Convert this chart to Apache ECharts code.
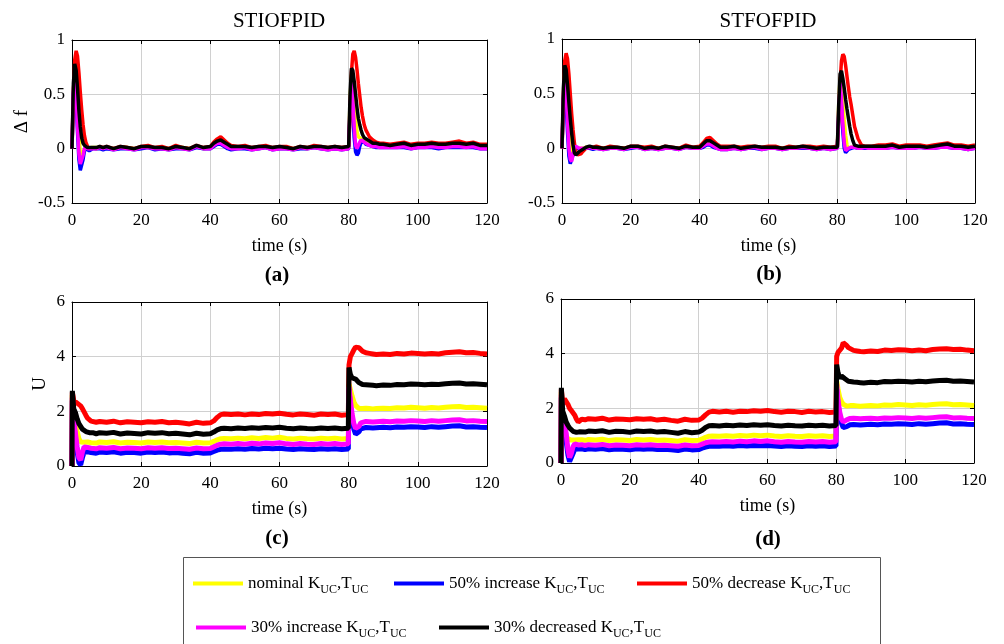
<!DOCTYPE html>
<html>
<head>
<meta charset="utf-8">
<title>STIOFPID vs STFOFPID</title>
<script src="https://cdn.jsdelivr.net/npm/echarts@6/dist/echarts.min.js"></script>
<style>
  html, body { margin: 0; padding: 0; background: #fff; }
  #chart { width: 1004px; height: 644px; }
</style>
</head>
<body>
<div id="chart"></div>
<script>
// time base of the frequency plots (a), (b)
const tF = [
  0, 0.4, 0.8, 1.2, 1.6, 2, 2.4, 2.8, 3.2, 3.6,
  4, 4.5, 5, 5.5, 6, 7, 8, 9, 10,
  12, 14, 16, 18, 20, 22, 24, 26, 28, 30, 32, 34, 36, 38,
  40, 41, 42, 43, 44, 45, 46,
  48, 50, 52, 54, 56, 58, 60, 62, 64, 66, 68, 70, 72, 74, 76, 78, 80,
  80.4, 80.8, 81.2, 81.6, 82, 82.4, 82.8, 83.2, 83.6, 84,
  84.5, 85, 86, 87, 88, 89, 90,
  92, 94, 96, 98, 100, 102, 104, 106, 108, 110, 112, 114, 116, 118, 120
];
// time base of the control-signal plots (c), (d)
const tU = [
  0, 0.1, 0.5, 1, 1.5, 2, 2.5, 3, 3.5, 4, 4.5, 5, 5.5, 6,
  7, 8, 10, 12, 14, 16, 18, 20, 22, 24, 26, 28, 30, 32, 34, 36, 38, 40,
  41, 42, 43, 44,
  46, 48, 50, 52, 54, 56, 58, 60, 62, 64, 66, 68, 70, 72, 74, 76, 78,
  79.9, 80.1, 80.5, 81, 81.5, 82, 82.5, 83, 83.5, 84,
  85, 86, 87, 88,
  90, 92, 94, 96, 98, 100, 102, 104, 106, 108, 110, 112, 114, 116, 118, 120
];

// (a) STIOFPID, delta f
const aYellow = [
  0, 0.55, 0.7, 0.6, 0.35, 0.12, -0.03, -0.07, -0.04, 0.0,
  0.01, 0.0, 0.0, 0.01, 0.0, 0.01, 0.01, 0.0, 0.01,
  0.0, 0.01, 0.01, 0.0, 0.01, 0.02, 0.0, 0.01, 0.0, 0.01, 0.01, 0.0, 0.02, 0.0,
  0.01, 0.04, 0.06, 0.07, 0.05, 0.03, 0.01,
  0.01, 0.02, 0.0, 0.01, 0.02, 0.0, 0.01, 0.01, 0.0, 0.01, 0.0, 0.02, 0.01, 0.0, 0.01, 0.0, 0.01,
  0.45, 0.68, 0.6, 0.42, 0.26, 0.16, 0.11, 0.1, 0.09, 0.08,
  0.07, 0.06, 0.05, 0.04, 0.04, 0.03, 0.03,
  0.02, 0.03, 0.04, 0.02, 0.03, 0.03, 0.04, 0.03, 0.03, 0.04, 0.04, 0.03, 0.04, 0.02, 0.02
];
const aBlue = [
  0, 0.5, 0.65, 0.45, 0.15, -0.1, -0.2, -0.19, -0.1, -0.02,
  0.0, -0.01, -0.02, -0.01, 0.0, 0.0, 0.0, -0.01, 0.0,
  -0.01, 0.0, 0.0, -0.01, 0.0, 0.01, -0.01, 0.0, -0.01, 0.0, 0.0, -0.01, 0.01, 0.0,
  0.0, 0.02, 0.04, 0.04, 0.02, 0.0, -0.01,
  0.0, 0.0, -0.01, 0.0, 0.01, -0.01, 0.0, 0.0, -0.01, 0.0, 0.0, 0.01, 0.0, -0.01, 0.0, -0.01, 0.0,
  0.35, 0.55, 0.35, 0.1, -0.03, -0.06, -0.04, 0.02, 0.06, 0.07,
  0.06, 0.04, 0.03, 0.02, 0.01, 0.01, 0.01,
  0.01, 0.01, 0.01, 0.0, 0.01, 0.01, 0.01, 0.0, 0.01, 0.01, 0.01, 0.01, 0.01, 0.0, 0.0
];
const aRed = [
  0, 0.45, 0.82, 0.9, 0.85, 0.7, 0.52, 0.36, 0.22, 0.12,
  0.06, 0.02, 0.0, 0.0, 0.01, 0.0, 0.02, 0.01, 0.02,
  0.0, 0.02, 0.01, 0.0, 0.02, 0.03, 0.01, 0.02, 0.0, 0.03, 0.01, 0.0, 0.03, 0.01,
  0.02, 0.06, 0.09, 0.11, 0.08, 0.05, 0.03,
  0.02, 0.03, 0.01, 0.02, 0.03, 0.01, 0.02, 0.02, 0.0, 0.02, 0.01, 0.03, 0.02, 0.01, 0.02, 0.01, 0.02,
  0.3, 0.7, 0.87, 0.9, 0.84, 0.73, 0.6, 0.49, 0.38, 0.3,
  0.22, 0.17, 0.11, 0.08, 0.06, 0.05, 0.05,
  0.04, 0.05, 0.06, 0.04, 0.05, 0.05, 0.06, 0.05, 0.05, 0.06, 0.07, 0.05, 0.06, 0.04, 0.04
];
const aMagenta = [
  0, 0.55, 0.68, 0.5, 0.2, -0.05, -0.14, -0.13, -0.06, 0.0,
  0.02, 0.0, -0.01, 0.0, 0.0, 0.0, 0.01, 0.0, 0.01,
  -0.01, 0.01, 0.0, -0.01, 0.01, 0.01, 0.0, 0.0, -0.01, 0.01, 0.0, -0.01, 0.02, 0.0,
  0.0, 0.03, 0.05, 0.05, 0.03, 0.01, 0.0,
  0.0, 0.01, -0.01, 0.0, 0.01, -0.01, 0.0, 0.0, -0.01, 0.01, 0.0, 0.01, 0.0, -0.01, 0.0, -0.01, 0.0,
  0.4, 0.62, 0.45, 0.2, 0.03, 0.0, 0.03, 0.06, 0.08, 0.08,
  0.06, 0.05, 0.03, 0.02, 0.02, 0.01, 0.01,
  0.01, 0.01, 0.02, 0.0, 0.01, 0.01, 0.02, 0.01, 0.01, 0.02, 0.02, 0.01, 0.02, 0.0, 0.0
];
const aBlack = [
  0, 0.6, 0.78, 0.72, 0.55, 0.35, 0.2, 0.1, 0.05, 0.03,
  0.02, 0.01, 0.0, 0.01, 0.0, 0.01, 0.02, 0.01, 0.02,
  0.0, 0.02, 0.01, 0.0, 0.02, 0.02, 0.01, 0.01, 0.0, 0.02, 0.01, 0.0, 0.03, 0.01,
  0.02, 0.05, 0.07, 0.08, 0.06, 0.04, 0.02,
  0.02, 0.02, 0.01, 0.02, 0.02, 0.01, 0.02, 0.01, 0.0, 0.02, 0.01, 0.02, 0.02, 0.01, 0.02, 0.01, 0.02,
  0.5, 0.74, 0.72, 0.62, 0.5, 0.38, 0.28, 0.22, 0.17, 0.13,
  0.1, 0.09, 0.07, 0.05, 0.05, 0.04, 0.04,
  0.03, 0.04, 0.05, 0.03, 0.04, 0.04, 0.05, 0.04, 0.04, 0.05, 0.05, 0.04, 0.05, 0.03, 0.03
];

// (b) STFOFPID, delta f
const bYellow = [
  0, 0.5, 0.7, 0.62, 0.4, 0.18, 0.02, -0.05, -0.05, -0.02,
  0.0, 0.0, 0.0, 0.0, 0.0, 0.01, 0.01, 0.0, 0.01,
  0.0, 0.01, 0.0, 0.0, 0.01, 0.01, 0.0, 0.01, 0.0, 0.01, 0.0, 0.0, 0.02, 0.0,
  0.01, 0.03, 0.05, 0.05, 0.04, 0.02, 0.01,
  0.0, 0.01, 0.0, 0.01, 0.01, 0.0, 0.01, 0.01, 0.0, 0.01, 0.0, 0.01, 0.01, 0.0, 0.01, 0.0, 0.01,
  0.4, 0.65, 0.58, 0.42, 0.26, 0.12, 0.03, 0.0, 0.0, 0.01,
  0.01, 0.01, 0.01, 0.01, 0.01, 0.01, 0.01,
  0.01, 0.01, 0.02, 0.01, 0.01, 0.01, 0.02, 0.01, 0.01, 0.02, 0.03, 0.01, 0.01, 0.01, 0.01
];
const bBlue = [
  0, 0.45, 0.6, 0.42, 0.15, -0.07, -0.14, -0.13, -0.06, 0.0,
  0.01, 0.0, 0.0, -0.01, 0.0, 0.0, 0.0, -0.01, 0.0,
  -0.01, 0.0, 0.0, -0.01, 0.0, 0.01, -0.01, 0.0, -0.01, 0.0, 0.0, -0.01, 0.01, 0.0,
  0.0, 0.01, 0.03, 0.03, 0.01, 0.0, -0.01,
  -0.01, 0.0, -0.01, 0.0, 0.0, -0.01, 0.0, 0.0, -0.01, 0.0, 0.0, 0.0, 0.0, -0.01, 0.0, -0.01, 0.0,
  0.3, 0.55, 0.38, 0.15, 0.0, -0.04, -0.04, -0.01, 0.0, 0.0,
  0.0, 0.01, 0.0, 0.0, 0.0, 0.0, 0.0,
  0.0, 0.0, 0.01, 0.0, 0.0, 0.0, 0.01, 0.0, 0.0, 0.01, 0.01, 0.0, 0.0, -0.01, 0.0
];
const bRed = [
  0, 0.4, 0.8, 0.87, 0.82, 0.68, 0.5, 0.32, 0.17, 0.05,
  -0.03, -0.06, -0.07, -0.05, -0.03, 0.0, 0.01, 0.01, 0.02,
  0.0, 0.02, 0.01, 0.0, 0.02, 0.02, 0.01, 0.02, 0.0, 0.02, 0.01, 0.0, 0.03, 0.01,
  0.02, 0.05, 0.09, 0.1, 0.07, 0.04, 0.02,
  0.02, 0.02, 0.01, 0.02, 0.02, 0.01, 0.02, 0.02, 0.0, 0.02, 0.01, 0.02, 0.02, 0.01, 0.02, 0.01, 0.02,
  0.25, 0.6, 0.8, 0.86, 0.84, 0.76, 0.66, 0.56, 0.47, 0.4,
  0.3, 0.2, 0.09, 0.03, 0.02, 0.02, 0.02,
  0.03, 0.03, 0.04, 0.02, 0.03, 0.03, 0.03, 0.02, 0.03, 0.04, 0.05, 0.03, 0.03, 0.02, 0.03
];
const bMagenta = [
  0, 0.5, 0.65, 0.5, 0.25, 0.0, -0.1, -0.12, -0.06, 0.0,
  0.02, 0.01, 0.0, 0.0, 0.0, 0.0, 0.01, 0.0, 0.0,
  -0.01, 0.0, 0.0, -0.01, 0.01, 0.01, -0.01, 0.0, -0.01, 0.0, 0.0, -0.01, 0.01, 0.0,
  0.0, 0.02, 0.04, 0.04, 0.02, 0.0, -0.01,
  -0.01, 0.0, -0.01, 0.0, 0.01, -0.01, 0.0, 0.0, -0.01, 0.0, 0.0, 0.01, 0.0, -0.01, 0.0, -0.01, 0.0,
  0.35, 0.6, 0.45, 0.22, 0.05, -0.02, -0.02, 0.0, 0.01, 0.01,
  0.01, 0.01, 0.0, 0.0, 0.01, 0.0, 0.0,
  0.0, 0.0, 0.01, 0.0, 0.0, 0.0, 0.01, 0.0, 0.0, 0.01, 0.01, 0.0, 0.0, -0.01, 0.0
];
const bBlack = [
  0, 0.55, 0.76, 0.72, 0.58, 0.42, 0.27, 0.14, 0.03, -0.04,
  -0.06, -0.05, -0.03, -0.02, -0.01, 0.01, 0.02, 0.01, 0.01,
  0.0, 0.01, 0.01, 0.0, 0.02, 0.02, 0.0, 0.01, 0.0, 0.02, 0.01, 0.0, 0.02, 0.01,
  0.01, 0.04, 0.07, 0.07, 0.05, 0.03, 0.01,
  0.01, 0.02, 0.0, 0.01, 0.02, 0.01, 0.01, 0.01, 0.0, 0.01, 0.01, 0.02, 0.01, 0.0, 0.01, 0.01, 0.01,
  0.4, 0.68, 0.71, 0.64, 0.55, 0.45, 0.36, 0.28, 0.2, 0.13,
  0.07, 0.03, 0.02, 0.02, 0.02, 0.02, 0.02,
  0.02, 0.02, 0.03, 0.01, 0.02, 0.02, 0.02, 0.01, 0.02, 0.03, 0.04, 0.02, 0.02, 0.01, 0.02
];

// (c) STIOFPID, U
const cYellow = [
  0, 2.6, 1.9, 1.6, 1.25, 1.0, 0.88, 0.85, 0.87, 0.86, 0.88, 0.87, 0.85, 0.87,
  0.84, 0.88, 0.86, 0.89, 0.84, 0.87, 0.86, 0.84, 0.88, 0.86, 0.88, 0.85, 0.86, 0.84, 0.82, 0.87, 0.84, 0.85,
  0.9, 0.96, 1.0, 1.01,
  1.0, 1.02, 1.0, 1.03, 1.01, 1.04, 1.02, 1.05, 1.01, 0.99, 1.02, 1.0, 0.99, 1.02, 1.0, 1.02, 0.99,
  1.01, 3.0, 2.8, 2.55, 2.35, 2.22, 2.15, 2.1, 2.09, 2.1,
  2.11, 2.1, 2.09, 2.1,
  2.11, 2.1, 2.13, 2.12, 2.15, 2.13, 2.11, 2.14, 2.12, 2.15, 2.17, 2.18, 2.14, 2.15, 2.13, 2.11
];
const cBlue = [
  0, 2.4, 1.6, 1.0, 0.5, 0.12, 0.04, 0.3, 0.5, 0.55, 0.52, 0.5, 0.49, 0.51,
  0.47, 0.51, 0.49, 0.52, 0.47, 0.5, 0.49, 0.47, 0.51, 0.49, 0.51, 0.48, 0.49, 0.47, 0.45, 0.5, 0.47, 0.48,
  0.53, 0.58, 0.61, 0.62,
  0.61, 0.63, 0.61, 0.64, 0.62, 0.65, 0.63, 0.65, 0.62, 0.6, 0.63, 0.61, 0.6, 0.63, 0.61, 0.63, 0.6,
  0.62, 2.8, 2.2, 1.7, 1.35, 1.16, 1.13, 1.25, 1.36, 1.4,
  1.41, 1.4, 1.39, 1.4,
  1.42, 1.4, 1.43, 1.42, 1.44, 1.43, 1.41, 1.44, 1.42, 1.44, 1.46, 1.47, 1.43, 1.44, 1.42, 1.41
];
const cRed = [
  0, 2.7, 2.4, 2.35, 2.3, 2.28, 2.2, 2.1, 1.98, 1.86, 1.75, 1.68, 1.64, 1.62,
  1.6, 1.63, 1.6, 1.64, 1.58, 1.62, 1.6, 1.58, 1.62, 1.6, 1.63, 1.58, 1.6, 1.57, 1.54, 1.6, 1.56, 1.58,
  1.65, 1.78, 1.88, 1.9,
  1.88, 1.9, 1.87, 1.9, 1.88, 1.92, 1.9, 1.93, 1.89, 1.87, 1.9, 1.88, 1.86, 1.9, 1.88, 1.9, 1.86,
  1.88, 3.7, 4.0, 4.12, 4.25, 4.35, 4.38, 4.33, 4.26, 4.2,
  4.14, 4.12, 4.1, 4.08,
  4.1, 4.08, 4.12, 4.1, 4.13, 4.12, 4.1, 4.12, 4.1, 4.14, 4.16, 4.18, 4.14, 4.15, 4.12, 4.1
];
const cMagenta = [
  0, 2.5, 1.7, 1.2, 0.7, 0.3, 0.22, 0.5, 0.7, 0.72, 0.68, 0.66, 0.65, 0.67,
  0.63, 0.67, 0.65, 0.68, 0.63, 0.66, 0.65, 0.63, 0.67, 0.65, 0.67, 0.64, 0.65, 0.63, 0.61, 0.66, 0.63, 0.64,
  0.7, 0.76, 0.8, 0.81,
  0.8, 0.82, 0.8, 0.83, 0.81, 0.84, 0.82, 0.85, 0.81, 0.79, 0.82, 0.8, 0.79, 0.82, 0.8, 0.82, 0.79,
  0.81, 2.9, 2.4, 1.9, 1.55, 1.38, 1.32, 1.45, 1.58, 1.62,
  1.63, 1.62, 1.61, 1.62,
  1.64, 1.62, 1.65, 1.64, 1.66, 1.65, 1.63, 1.66, 1.64, 1.66, 1.68, 1.69, 1.65, 1.66, 1.64, 1.63
];
const cBlack = [
  0, 2.75, 2.1, 1.95, 1.72, 1.55, 1.45, 1.35, 1.3, 1.26, 1.23, 1.22, 1.2, 1.22,
  1.18, 1.22, 1.2, 1.23, 1.17, 1.21, 1.19, 1.17, 1.22, 1.2, 1.22, 1.18, 1.2, 1.17, 1.14, 1.2, 1.16, 1.18,
  1.24, 1.32, 1.37, 1.38,
  1.36, 1.39, 1.37, 1.4, 1.38, 1.41, 1.39, 1.42, 1.38, 1.36, 1.39, 1.37, 1.36, 1.39, 1.37, 1.39, 1.36,
  1.38, 3.6, 3.35, 3.22, 3.2, 3.18, 3.12, 3.05, 3.0, 2.98,
  2.97, 2.96, 2.95, 2.94,
  2.96, 2.95, 2.98, 2.97, 3.0, 2.99, 2.97, 2.99, 2.98, 3.01, 3.03, 3.04, 3.0, 3.01, 2.99, 2.97
];

// (d) STFOFPID, U
const dYellow = [
  0, 2.6, 1.8, 1.35, 1.0, 0.88, 0.85, 0.84, 0.86, 0.84, 0.86, 0.85, 0.83, 0.85,
  0.83, 0.86, 0.84, 0.87, 0.82, 0.85, 0.84, 0.82, 0.86, 0.84, 0.86, 0.83, 0.84, 0.82, 0.8, 0.85, 0.82, 0.83,
  0.88, 0.94, 0.98, 0.99,
  0.98, 1.0, 0.98, 1.01, 0.99, 1.02, 1.0, 1.02, 0.99, 0.97, 1.0, 0.98, 0.97, 1.0, 0.98, 1.0, 0.97,
  0.99, 3.0, 2.7, 2.4, 2.25, 2.15, 2.1, 2.08, 2.09, 2.1,
  2.1, 2.09, 2.08, 2.09,
  2.1, 2.09, 2.12, 2.11, 2.14, 2.12, 2.1, 2.13, 2.11, 2.14, 2.16, 2.17, 2.13, 2.14, 2.12, 2.1
];
const dBlue = [
  0, 2.4, 1.5, 1.3, 0.8, 0.3, 0.05, 0.0, 0.35, 0.5, 0.53, 0.51, 0.5, 0.52,
  0.49, 0.52, 0.5, 0.53, 0.48, 0.51, 0.5, 0.48, 0.52, 0.5, 0.52, 0.49, 0.5, 0.48, 0.46, 0.51, 0.48, 0.49,
  0.54, 0.58, 0.61, 0.62,
  0.61, 0.63, 0.61, 0.64, 0.62, 0.64, 0.63, 0.64, 0.62, 0.6, 0.63, 0.61, 0.6, 0.63, 0.61, 0.63, 0.6,
  0.62, 2.7, 2.1, 1.7, 1.45, 1.3, 1.27, 1.33, 1.38, 1.4,
  1.41, 1.4, 1.39, 1.4,
  1.42, 1.4, 1.43, 1.42, 1.44, 1.43, 1.41, 1.44, 1.42, 1.44, 1.46, 1.47, 1.43, 1.44, 1.42, 1.41
];
const dRed = [
  0, 2.7, 2.15, 2.35, 2.38, 2.15, 2.0, 1.92, 1.88, 1.75, 1.6, 1.5, 1.55, 1.6,
  1.58, 1.62, 1.6, 1.64, 1.57, 1.61, 1.6, 1.58, 1.62, 1.6, 1.62, 1.57, 1.6, 1.56, 1.53, 1.6, 1.56, 1.57,
  1.64, 1.76, 1.86, 1.89,
  1.87, 1.89, 1.86, 1.89, 1.88, 1.91, 1.89, 1.92, 1.88, 1.86, 1.89, 1.88, 1.85, 1.89, 1.87, 1.88, 1.85,
  1.87, 3.9, 4.05, 4.1, 4.2, 4.4, 4.45, 4.3, 4.22, 4.18,
  4.12, 4.1, 4.08, 4.07,
  4.1, 4.08, 4.13, 4.12, 4.14, 4.13, 4.11, 4.13, 4.11, 4.15, 4.17, 4.18, 4.15, 4.16, 4.13, 4.11
];
const dMagenta = [
  0, 2.5, 1.65, 1.6, 1.1, 0.5, 0.2, 0.35, 0.6, 0.7, 0.68, 0.66, 0.65, 0.67,
  0.64, 0.67, 0.65, 0.68, 0.63, 0.66, 0.65, 0.63, 0.67, 0.65, 0.67, 0.64, 0.65, 0.63, 0.61, 0.66, 0.63, 0.64,
  0.69, 0.74, 0.77, 0.78,
  0.77, 0.79, 0.77, 0.8, 0.78, 0.81, 0.79, 0.81, 0.78, 0.76, 0.79, 0.77, 0.76, 0.79, 0.77, 0.79, 0.76,
  0.78, 2.9, 2.3, 1.85, 1.6, 1.5, 1.5, 1.58, 1.62, 1.63,
  1.64, 1.63, 1.62, 1.63,
  1.64, 1.62, 1.65, 1.64, 1.66, 1.65, 1.63, 1.66, 1.64, 1.66, 1.68, 1.69, 1.65, 1.66, 1.64, 1.63
];
const dBlack = [
  0, 2.75, 1.9, 1.72, 1.5, 1.38, 1.28, 1.22, 1.16, 1.1, 1.12, 1.15, 1.14, 1.16,
  1.13, 1.17, 1.15, 1.18, 1.12, 1.16, 1.15, 1.12, 1.17, 1.15, 1.17, 1.13, 1.15, 1.12, 1.09, 1.15, 1.11, 1.13,
  1.2, 1.3, 1.36, 1.37,
  1.35, 1.38, 1.36, 1.39, 1.37, 1.4, 1.38, 1.4, 1.37, 1.35, 1.38, 1.36, 1.35, 1.38, 1.36, 1.38, 1.35,
  1.37, 3.6, 3.3, 3.1, 3.18, 3.15, 3.08, 3.02, 2.99, 2.97,
  2.96, 2.95, 2.94, 2.93,
  2.95, 2.94, 2.98, 2.97, 2.99, 2.98, 2.96, 2.99, 2.97, 3.0, 3.02, 3.03, 2.99, 3.0, 2.98, 2.96
];

const seriesNames = ['nominal', '50% increase', '50% decrease', '30% increase', '30% decreased'];
const seriesColors = ['#ffff00', '#0000ff', '#ff0000', '#ff00ff', '#000000'];
const xTicks = { min: 0, max: 120, step: 20 };

const FONT = '"Liberation Serif", "Times New Roman", serif';

const panels = [
  { box: { left: 72, top: 40, width: 415, height: 163 }, t: tF,
    ys: [aYellow, aBlue, aRed, aMagenta, aBlack],
    yMin: -0.5, yMax: 1, yStep: 0.5, yName: 'Δ f', yGap: 40, lw: 3.5 },
  { box: { left: 562, top: 39, width: 413, height: 164 }, t: tF,
    ys: [bYellow, bBlue, bRed, bMagenta, bBlack],
    yMin: -0.5, yMax: 1, yStep: 0.5, yName: '', yGap: 40, lw: 3.5 },
  { box: { left: 72, top: 302, width: 415, height: 164 }, t: tU,
    ys: [cYellow, cBlue, cRed, cMagenta, cBlack],
    yMin: 0, yMax: 6, yStep: 2, yName: 'U', yGap: 22, lw: 5 },
  { box: { left: 561, top: 299, width: 413, height: 164 }, t: tU,
    ys: [dYellow, dBlue, dRed, dMagenta, dBlack],
    yMin: 0, yMax: 6, yStep: 2, yName: '', yGap: 22, lw: 5 }
];

// quick sanity check on the hand-typed arrays
panels.forEach((p, i) => p.ys.forEach((y, k) => {
  if (y.length !== p.t.length) throw new Error('panel ' + i + ' series ' + k + ': ' + y.length + ' vs ' + p.t.length);
}));

const grid = [], xAxis = [], yAxis = [], series = [];
const tickStyle = { show: true, inside: true, length: 4, lineStyle: { color: '#000', width: 1 } };
const lineBlack = { show: true, onZero: false, lineStyle: { color: '#000', width: 1 } };
const gridLine = { show: true, lineStyle: { color: '#d0d0d0', width: 1 } };

panels.forEach((p, i) => {
  grid.push(Object.assign({ containLabel: false }, p.box));
  // bottom + top x axes (top one only closes the box)
  xAxis.push({
    gridIndex: i, type: 'value', position: 'bottom',
    min: xTicks.min, max: xTicks.max, interval: xTicks.step,
    axisLine: lineBlack, axisTick: tickStyle, splitLine: gridLine,
    axisLabel: { color: '#000', fontFamily: FONT, fontSize: 17, margin: 9 },
    name: 'time (s)', nameLocation: 'middle', nameGap: 34,
    nameTextStyle: { color: '#000', fontFamily: FONT, fontSize: 18 }
  });
  xAxis.push({
    gridIndex: i, type: 'value', position: 'top',
    min: xTicks.min, max: xTicks.max, interval: xTicks.step,
    axisLine: lineBlack, axisTick: tickStyle, axisLabel: { show: false }, splitLine: { show: false }
  });
  yAxis.push({
    gridIndex: i, type: 'value', position: 'left',
    min: p.yMin, max: p.yMax, interval: p.yStep,
    axisLine: lineBlack, axisTick: tickStyle, splitLine: gridLine,
    axisLabel: { color: '#000', fontFamily: FONT, fontSize: 17, margin: 7 },
    name: p.yName, nameLocation: 'middle', nameGap: p.yGap, nameRotate: 90,
    nameTextStyle: { color: '#000', fontFamily: FONT, fontSize: 19 }
  });
  yAxis.push({
    gridIndex: i, type: 'value', position: 'right',
    min: p.yMin, max: p.yMax, interval: p.yStep,
    axisLine: lineBlack, axisTick: tickStyle, axisLabel: { show: false }, splitLine: { show: false }
  });
  p.ys.forEach((vals, k) => {
    series.push({
      name: seriesNames[k], type: 'line',
      xAxisIndex: 2 * i, yAxisIndex: 2 * i,
      showSymbol: false, symbol: 'none',
      lineStyle: { color: seriesColors[k], width: p.lw },
      itemStyle: { color: seriesColors[k] },
      data: p.t.map((t, j) => [t, vals[j]])
    });
  });
});

// one legend per entry so each sits where the original puts it
const legendSpots = [[193, 575], [394, 575], [637, 575], [196, 619], [439, 619]];
const legend = seriesNames.map((n, k) => ({
  data: [n], left: legendSpots[k][0], top: legendSpots[k][1],
  padding: 0,
  icon: 'rect', itemWidth: 50, itemHeight: 4, itemGap: 0,
  selectedMode: false,
  formatter: name => '{t|' + name + ' K}{s|UC}{t|,T}{s|UC}',
  textStyle: {
    color: '#000',
    rich: {
      t: { fontFamily: FONT, fontSize: 17, lineHeight: 24, color: '#000' },
      s: { fontFamily: FONT, fontSize: 12, lineHeight: 6, verticalAlign: 'bottom', color: '#000' }
    }
  }
}));

const txt = (s, x, y, size, bold) => ({
  type: 'text', x: x, y: y, silent: true,
  style: { text: s, fill: '#000', align: 'center', verticalAlign: 'middle',
           font: (bold ? 'bold ' : '') + size + 'px ' + FONT }
});

const chart = echarts.init(document.getElementById('chart'), null, { renderer: 'canvas' });
chart.setOption({
  animation: false,
  backgroundColor: '#fff',
  grid, xAxis, yAxis, series, legend,
  graphic: [
    txt('STIOFPID', 279, 21, 21, false),
    txt('STFOFPID', 768, 21, 21, false),
    txt('(a)', 277, 276, 21, true),
    txt('(b)', 769, 275, 21, true),
    txt('(c)', 277, 539, 21, true),
    txt('(d)', 768, 540, 21, true),
    { type: 'rect', silent: true, z: -1,
      shape: { x: 183.5, y: 557.5, width: 697, height: 100 },
      style: { fill: 'none', stroke: '#555', lineWidth: 1 } }
  ]
});
</script>
</body>
</html>
